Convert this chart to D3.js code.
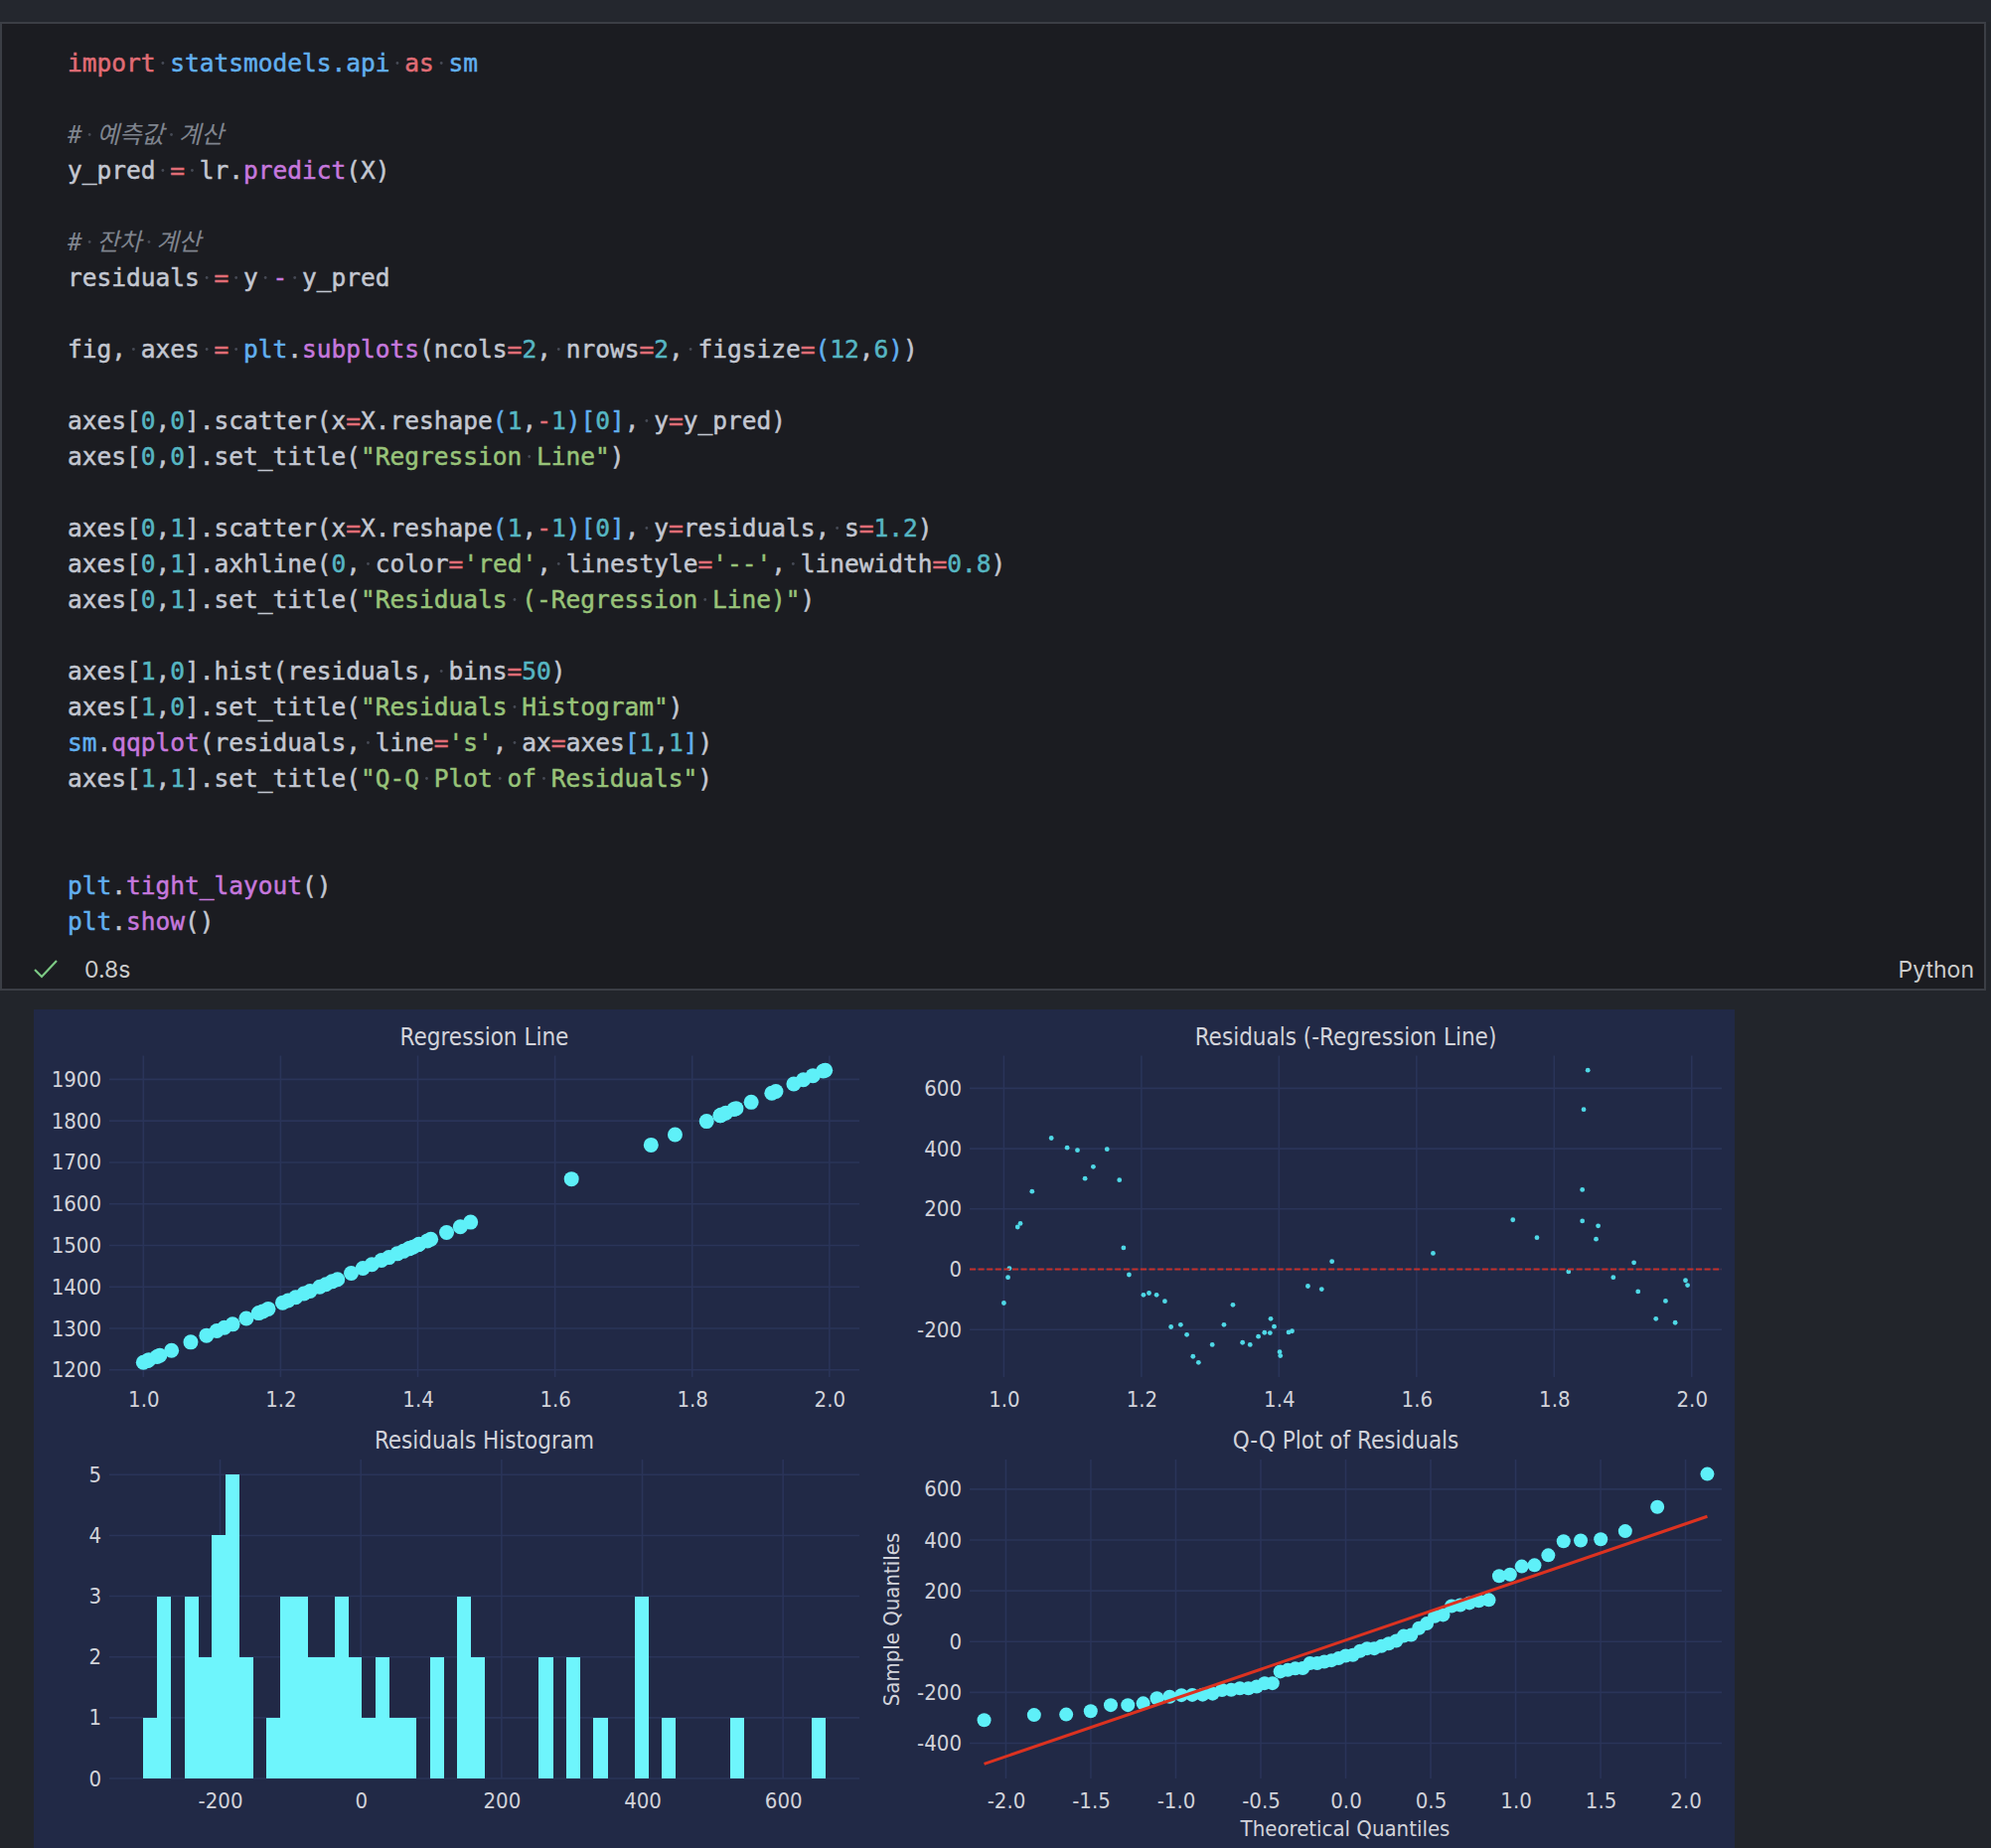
<!DOCTYPE html>
<html>
<head>
<meta charset="utf-8">
<script src="https://cdn.jsdelivr.net/npm/d3@7"></script>
<style>
  html, body { margin: 0; padding: 0; background: #22252b; }
  svg { display: block; }
  .code text { font-family: "DejaVu Sans Mono", "Noto Sans CJK KR", monospace; font-size: 24.5px; white-space: pre; }
  .ui text { font-family: Inter, "Noto Sans", sans-serif; font-size: 23px; fill: #cccccc; }
  .mpl text { font-family: "DejaVu Sans Condensed", "DejaVu Sans", sans-serif; font-stretch: condensed; }
</style>
</head>
<body>
<svg id="page" width="2004" height="1860"></svg>
<script>
// X feature values
var xValues = [1.000, 1.006, 1.008, 1.020, 1.024, 1.041, 1.069, 1.092, 1.107, 1.118,
  1.130, 1.150, 1.168, 1.174, 1.182, 1.203, 1.211, 1.222, 1.234, 1.243,
  1.257, 1.266, 1.275, 1.283, 1.303, 1.320, 1.333, 1.347, 1.358, 1.370,
  1.379, 1.387, 1.388, 1.393, 1.401, 1.402, 1.414, 1.419, 1.442, 1.462,
  1.477, 1.624, 1.740, 1.775, 1.821, 1.841, 1.841, 1.843, 1.849, 1.861,
  1.864, 1.886, 1.916, 1.922, 1.948, 1.962, 1.976, 1.991, 1.994];

// predicted values (Regression Line panel)
var yPred = [1218, 1222, 1224, 1232, 1235, 1247, 1267, 1283, 1294, 1302,
  1310, 1324, 1337, 1341, 1347, 1362, 1367, 1375, 1384, 1390,
  1400, 1406, 1413, 1418, 1433, 1445, 1454, 1464, 1471, 1480,
  1486, 1492, 1493, 1496, 1502, 1503, 1511, 1515, 1531, 1545,
  1556, 1660, 1742, 1767, 1799, 1813, 1813, 1815, 1819, 1828,
  1830, 1845, 1867, 1871, 1889, 1899, 1909, 1920, 1922];

// residuals, same order as xValues
var residuals = [-112, -27, 3, 140, 152, 258, 435, 403, 395, 301,
  340, 398, 296, 71, -18, -85, -79, -85, -106, -191,
  -184, -217, -289, -309, -250, -184, -118, -243, -250, -223,
  -210, -211, -164, -190, -274, -287, -209, -205, -56, -66,
  26, 53, 164, 105, -8, 264, 160, 530, 660, 100,
  144, -27, 22, -74, -164, -105, -177, -37, -53];

// normal theoretical quantiles for the 59 sorted residuals
var qqTheoretical = [-2.128, -1.834, -1.645, -1.501, -1.383, -1.282, -1.192, -1.111, -1.036, -0.967,
  -0.903, -0.842, -0.783, -0.728, -0.674, -0.623, -0.573, -0.524, -0.477, -0.431,
  -0.385, -0.341, -0.297, -0.253, -0.210, -0.168, -0.126, -0.084, -0.042, 0.000,
  0.042, 0.084, 0.126, 0.168, 0.210, 0.253, 0.297, 0.341, 0.385, 0.431,
  0.477, 0.524, 0.573, 0.623, 0.674, 0.728, 0.783, 0.842, 0.903, 0.967,
  1.036, 1.111, 1.192, 1.282, 1.383, 1.501, 1.645, 1.834, 2.128];

// standardized reference line, y at the first and last theoretical quantile
var qqLineEnds = [-482, 493];
var histBinCount = 50;

var regXTicks = [1.0, 1.2, 1.4, 1.6, 1.8, 2.0];
var regYTicks = [1200, 1300, 1400, 1500, 1600, 1700, 1800, 1900];
var resYTicks = [-200, 0, 200, 400, 600];
var histXTicks = [-200, 0, 200, 400, 600];
var histYTicks = [0, 1, 2, 3, 4, 5];
var qqXTicks = [-2.0, -1.5, -1.0, -0.5, 0.0, 0.5, 1.0, 1.5, 2.0];
var qqYTicks = [-400, -200, 0, 200, 400, 600];

var titles = ["Regression Line", "Residuals (-Regression Line)", "Residuals Histogram", "Q-Q Plot of Residuals"];

// code cell, one list of [style, text] tokens per line
var codeLines = [
  [["k", "import"], ["t", " "], ["m", "statsmodels.api"], ["t", " "], ["k", "as"], ["t", " "], ["m", "sm"]],
  [],
  [["c", "# 예측값 계산"]],
  [["t", "y_pred "], ["o", "="], ["t", " lr."], ["f", "predict"], ["t", "(X)"]],
  [],
  [["c", "# 잔차 계산"]],
  [["t", "residuals "], ["o", "="], ["t", " y "], ["p", "-"], ["t", " y_pred"]],
  [],
  [["t", "fig, axes "], ["o", "="], ["t", " "], ["m", "plt"], ["t", "."], ["f", "subplots"], ["t", "(ncols"], ["o", "="], ["n", "2"],
   ["t", ", nrows"], ["o", "="], ["n", "2"], ["t", ", figsize"], ["o", "="], ["b", "("], ["n", "12"], ["t", ","], ["n", "6"], ["b", ")"], ["t", ")"]],
  [],
  [["t", "axes["], ["n", "0"], ["t", ","], ["n", "0"], ["t", "].scatter(x"], ["o", "="], ["t", "X.reshape"], ["b", "("], ["n", "1"], ["t", ","],
   ["o", "-"], ["n", "1"], ["b", ")["], ["n", "0"], ["b", "]"], ["t", ", y"], ["o", "="], ["t", "y_pred)"]],
  [["t", "axes["], ["n", "0"], ["t", ","], ["n", "0"], ["t", "].set_title("], ["s", "\"Regression Line\""], ["t", ")"]],
  [],
  [["t", "axes["], ["n", "0"], ["t", ","], ["n", "1"], ["t", "].scatter(x"], ["o", "="], ["t", "X.reshape"], ["b", "("], ["n", "1"], ["t", ","],
   ["o", "-"], ["n", "1"], ["b", ")["], ["n", "0"], ["b", "]"], ["t", ", y"], ["o", "="], ["t", "residuals, s"], ["o", "="], ["n", "1.2"], ["t", ")"]],
  [["t", "axes["], ["n", "0"], ["t", ","], ["n", "1"], ["t", "].axhline("], ["n", "0"], ["t", ", color"], ["o", "="], ["s", "'red'"],
   ["t", ", linestyle"], ["o", "="], ["s", "'--'"], ["t", ", linewidth"], ["o", "="], ["n", "0.8"], ["t", ")"]],
  [["t", "axes["], ["n", "0"], ["t", ","], ["n", "1"], ["t", "].set_title("], ["s", "\"Residuals (-Regression Line)\""], ["t", ")"]],
  [],
  [["t", "axes["], ["n", "1"], ["t", ","], ["n", "0"], ["t", "].hist(residuals, bins"], ["o", "="], ["n", "50"], ["t", ")"]],
  [["t", "axes["], ["n", "1"], ["t", ","], ["n", "0"], ["t", "].set_title("], ["s", "\"Residuals Histogram\""], ["t", ")"]],
  [["m", "sm"], ["t", "."], ["f", "qqplot"], ["t", "(residuals, line"], ["o", "="], ["s", "'s'"], ["t", ", ax"], ["o", "="], ["t", "axes"],
   ["b", "["], ["n", "1"], ["t", ","], ["n", "1"], ["b", "]"], ["t", ")"]],
  [["t", "axes["], ["n", "1"], ["t", ","], ["n", "1"], ["t", "].set_title("], ["s", "\"Q-Q Plot of Residuals\""], ["t", ")"]],
  [],
  [],
  [["m", "plt"], ["t", "."], ["f", "tight_layout"], ["t", "()"]],
  [["m", "plt"], ["t", "."], ["f", "show"], ["t", "()"]]
];

var tokenColor = {t: "#c3c7d1", k: "#e06c75", m: "#61afef", f: "#c678dd", o: "#e06c75", p: "#c678dd",
  n: "#56b6c2", s: "#98c379", b: "#61afef", c: "#7f848e"};

var svg = d3.select("#page");

// ---------- editor chrome ----------
svg.append("rect").attr("x", 0).attr("y", 0).attr("width", 2004).attr("height", 1860).attr("fill", "#22252b");
svg.append("rect").attr("x", 0).attr("y", 0).attr("width", 2004).attr("height", 22).attr("fill", "#24272e");
svg.append("rect")
  .attr("x", 1).attr("y", 23).attr("width", 1997).attr("height", 973)
  .attr("fill", "#1b1c21").attr("stroke", "#3b3e45").attr("stroke-width", 2);

var code = svg.append("g").attr("class", "code");
codeLines.forEach(function(tokens, i) {
  if (!tokens.length) return;
  var t = code.append("text")
    .attr("x", 68)
    .attr("y", 71.5 + i * 36)
    .attr("xml:space", "preserve");
  tokens.forEach(function(tok) {
    t.append("tspan")
      .attr("fill", tokenColor[tok[0]])
      .attr("stroke", tok[0] === "c" ? null : tokenColor[tok[0]])
      .attr("stroke-width", 0.5)
      .attr("font-style", tok[0] === "c" ? "italic" : null)
      .text(tok[1]);
  });
  // rendered whitespace dots
  var full = tokens.map(function(tok) { return tok[1]; }).join("");
  var node = t.node();
  for (var c = 0; c < full.length; c++) {
    if (full[c] !== " ") continue;
    var p0 = node.getStartPositionOfChar(c);
    var p1 = node.getEndPositionOfChar(c);
    code.append("circle")
      .attr("cx", (p0.x + p1.x) / 2)
      .attr("cy", 71.5 + i * 36 - 8)
      .attr("r", 1.4)
      .attr("fill", "#464a55");
  }
});

var ui = svg.append("g").attr("class", "ui");
ui.append("path")
  .attr("d", "M35,976 L42,983 L57,967")
  .attr("fill", "none").attr("stroke", "#7cc984").attr("stroke-width", 2.2);
ui.append("text").attr("x", 85).attr("y", 984).text("0.8s");
ui.append("text").attr("x", 1987).attr("y", 984).attr("text-anchor", "end").text("Python");

// ---------- matplotlib figure ----------
var fig = svg.append("g").attr("class", "mpl");
fig.append("rect").attr("x", 34).attr("y", 1016).attr("width", 1712).attr("height", 844).attr("fill", "#212946");

var gridColor = "#2a3459";
var textColor = "#d2d3da";
var cyan = "#5ef0f8";

function pad(ext, m) {
  var d = ext[1] - ext[0];
  return [ext[0] - d * m, ext[1] + d * m];
}
function fmt1(v) { return v.toFixed(1); }
function fmt0(v) { return String(v); }

function drawFrame(g, x, y, xTicks, yTicks, xFmt, yFmt, title, titleY) {
  var xr = x.range(), yr = y.range();
  g.selectAll(".vgrid").data(xTicks).enter().append("line")
    .attr("x1", d => x(d)).attr("x2", d => x(d))
    .attr("y1", yr[1]).attr("y2", yr[0])
    .attr("stroke", gridColor).attr("stroke-width", 1.6);
  g.selectAll(".hgrid").data(yTicks).enter().append("line")
    .attr("x1", xr[0]).attr("x2", xr[1])
    .attr("y1", d => y(d)).attr("y2", d => y(d))
    .attr("stroke", gridColor).attr("stroke-width", 1.6);

  var bottomAxis = d3.axisBottom(x).tickValues(xTicks).tickFormat(xFmt).tickSize(0).tickPadding(14);
  var leftAxis = d3.axisLeft(y).tickValues(yTicks).tickFormat(yFmt).tickSize(0).tickPadding(8);
  var gx = g.append("g").attr("transform", `translate(0, ${yr[0]})`).call(bottomAxis);
  var gy = g.append("g").attr("transform", `translate(${xr[0]}, 0)`).call(leftAxis);
  [gx, gy].forEach(function(a) {
    a.select(".domain").remove();
    a.selectAll("text").attr("fill", textColor).attr("font-size", 22)
      .attr("font-family", null);
  });
  gx.selectAll("text").attr("dy", "0.71em");

  g.append("text")
    .attr("x", (xr[0] + xr[1]) / 2).attr("y", titleY)
    .attr("text-anchor", "middle").attr("fill", textColor).attr("font-size", 24)
    .text(title);
}

// panel 1: regression line
var g1 = fig.append("g");
var x1 = d3.scaleLinear().domain(pad(d3.extent(xValues), 0.05)).range([110, 865]);
var y1 = d3.scaleLinear().domain(pad(d3.extent(yPred), 0.05)).range([1386, 1062.5]);
drawFrame(g1, x1, y1, regXTicks, regYTicks, fmt1, fmt0, titles[0], 1052);
g1.selectAll("circle").data(xValues).enter().append("circle")
  .attr("cx", d => x1(d))
  .attr("cy", (d, i) => y1(yPred[i]))
  .attr("r", 7.5)
  .attr("fill", cyan);

// panel 2: residuals
var g2 = fig.append("g");
var x2 = d3.scaleLinear().domain(pad(d3.extent(xValues), 0.05)).range([976, 1733]);
var y2 = d3.scaleLinear().domain(pad(d3.extent(residuals), 0.05)).range([1386, 1062.5]);
drawFrame(g2, x2, y2, regXTicks, resYTicks, fmt1, fmt0, titles[1], 1052);
g2.selectAll("circle").data(xValues).enter().append("circle")
  .attr("cx", d => x2(d))
  .attr("cy", (d, i) => y2(residuals[i]))
  .attr("r", 2.4)
  .attr("fill", "#4fd8e6");
g2.append("line")
  .attr("x1", 976).attr("x2", 1733)
  .attr("y1", y2(0)).attr("y2", y2(0))
  .attr("stroke", "#c4302b").attr("stroke-width", 2.2)
  .attr("stroke-dasharray", "6,2.6");

// panel 3: histogram
var g3 = fig.append("g");
var resExt = d3.extent(residuals);
var binW = (resExt[1] - resExt[0]) / histBinCount;
var edges = d3.range(1, histBinCount).map(k => resExt[0] + k * binW);
var bins = d3.bin().domain(resExt).thresholds(edges)(residuals);
var x3 = d3.scaleLinear().domain(pad(resExt, 0.05)).range([110, 865]);
var y3 = d3.scaleLinear().domain([0, d3.max(bins, b => b.length) * 1.05]).range([1790, 1469]);
drawFrame(g3, x3, y3, histXTicks, histYTicks, fmt0, fmt0, titles[2], 1458);
g3.selectAll("rect").data(bins.filter(b => b.length > 0)).enter().append("rect")
  .attr("x", b => x3(b.x0))
  .attr("width", b => x3(b.x1) - x3(b.x0) + 0.5)
  .attr("y", b => y3(b.length))
  .attr("height", b => y3(0) - y3(b.length))
  .attr("shape-rendering", "crispEdges")
  .attr("fill", "#6ef5fc");

// panel 4: Q-Q plot
var g4 = fig.append("g");
var sortedRes = residuals.slice().sort(d3.ascending);
var qqYExt = [Math.min(d3.min(sortedRes), qqLineEnds[0]), Math.max(d3.max(sortedRes), qqLineEnds[1])];
var x4 = d3.scaleLinear().domain(pad(d3.extent(qqTheoretical), 0.02)).range([976, 1733]);
var y4 = d3.scaleLinear().domain(pad(qqYExt, 0.05)).range([1790, 1469]);
drawFrame(g4, x4, y4, qqXTicks, qqYTicks, fmt1, fmt0, titles[3], 1458);
g4.selectAll("circle").data(sortedRes).enter().append("circle")
  .attr("cx", (d, i) => x4(qqTheoretical[i]))
  .attr("cy", d => y4(d))
  .attr("r", 7)
  .attr("fill", cyan);
var qqLine = [[qqTheoretical[0], qqLineEnds[0]], [qqTheoretical[qqTheoretical.length - 1], qqLineEnds[1]]];
g4.append("path")
  .attr("d", d3.line().x(d => x4(d[0])).y(d => y4(d[1]))(qqLine))
  .attr("fill", "none").attr("stroke", "#dc3220").attr("stroke-width", 3);

g4.append("text")
  .attr("x", 1354).attr("y", 1848)
  .attr("text-anchor", "middle").attr("fill", textColor).attr("font-size", 22)
  .text("Theoretical Quantiles");
g4.append("text")
  .attr("transform", "translate(905, 1630) rotate(-90)")
  .attr("text-anchor", "middle").attr("fill", textColor).attr("font-size", 22)
  .text("Sample Quantiles");
</script>
</body>
</html>
